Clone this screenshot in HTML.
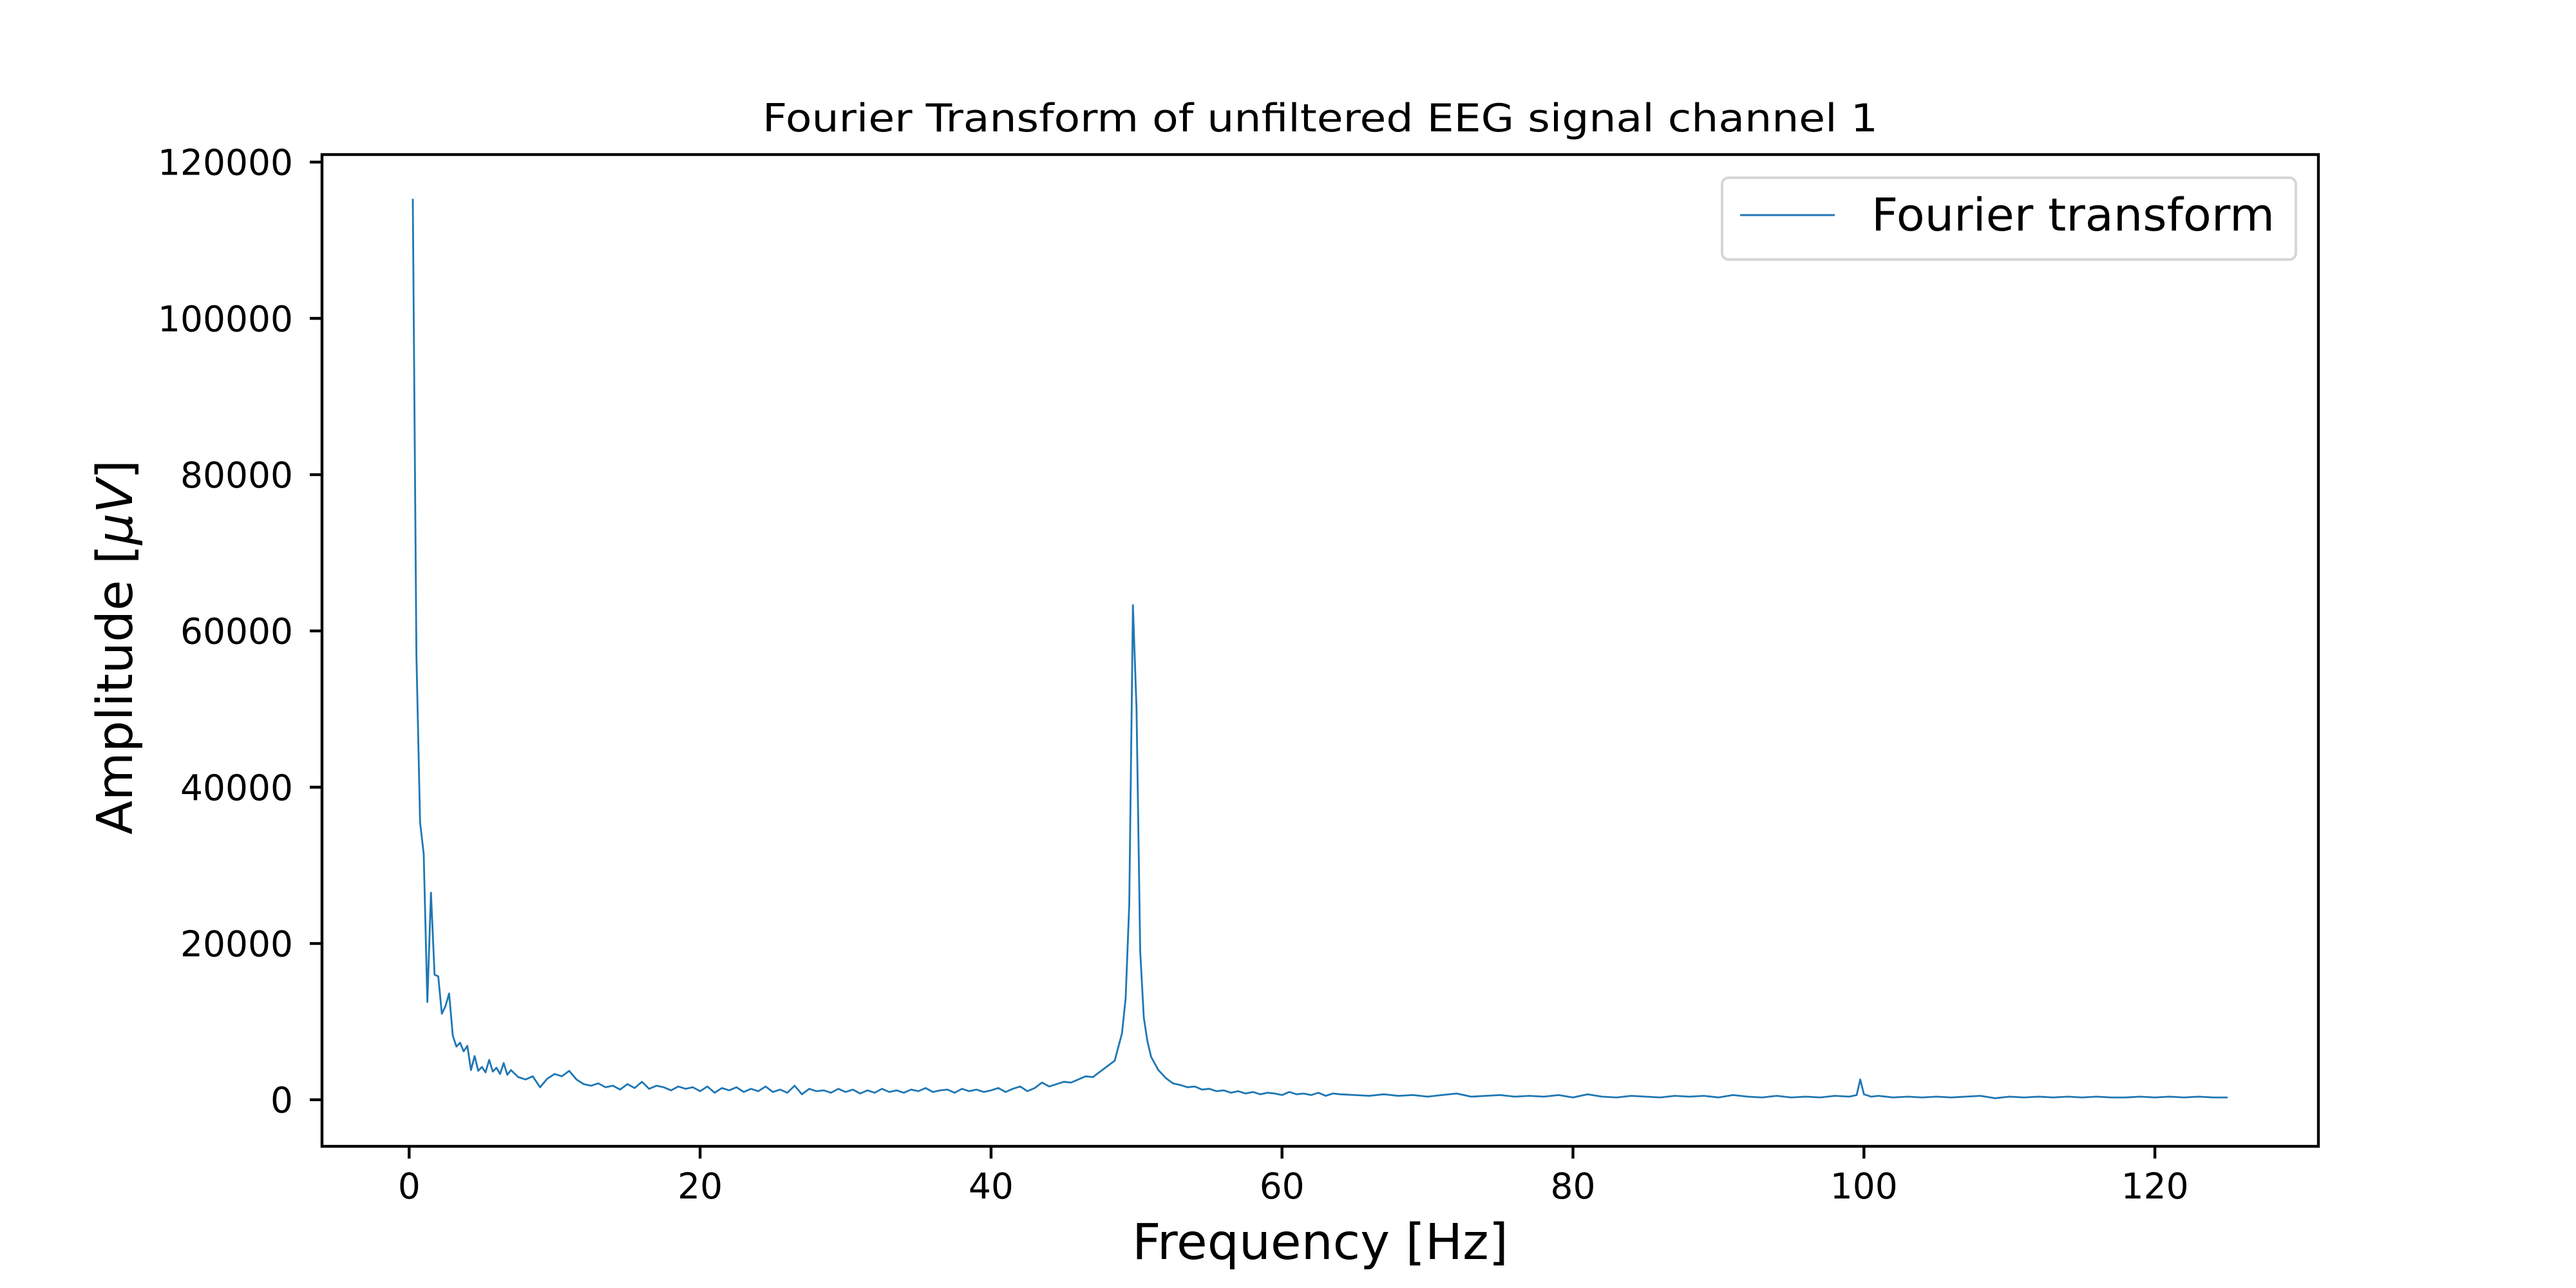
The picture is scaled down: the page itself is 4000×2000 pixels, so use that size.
<!DOCTYPE html>
<html><head><meta charset="utf-8"><style>
html,body{margin:0;padding:0;background:#fff;}
svg{display:block;}
text{font-family:"DejaVu Sans","Liberation Sans",sans-serif;fill:#000;}
</style></head><body>
<svg id="chart" width="4000" height="2000" viewBox="0 0 4000 2000" xmlns="http://www.w3.org/2000/svg">
<rect x="0" y="0" width="4000" height="2000" fill="#fff"/>
<text x="2050" y="204" font-size="60" text-anchor="middle" textLength="1732" lengthAdjust="spacingAndGlyphs">Fourier Transform of unfiltered EEG signal channel 1</text>
<g id="plot"></g>
<g id="xticks"></g>
<g id="yticks"></g>
<rect x="500" y="240" width="3100" height="1540" fill="none" stroke="#000" stroke-width="4.4"/>
<text x="2050" y="1955" font-size="77" text-anchor="middle" textLength="584" lengthAdjust="spacingAndGlyphs">Frequency [Hz]</text>
<text transform="translate(205,1005) rotate(-90)" font-size="77" text-anchor="middle" textLength="582" lengthAdjust="spacingAndGlyphs">Amplitude [<tspan font-style="italic">μV</tspan>]</text>
<g>
<rect x="2674" y="276" width="891" height="127" rx="10" fill="#fff" fill-opacity="0.8" stroke="#d6d6d6" stroke-width="4"/>
<line x1="2702" y1="334" x2="2849" y2="334" stroke="#1f77b4" stroke-width="3"/>
<text x="2906" y="358" font-size="70" textLength="626" lengthAdjust="spacingAndGlyphs">Fourier transform</text>
</g>
</svg>
<script>
const freqs = [0.25,0.5,0.75,1,1.25,1.5,1.75,2,2.25,2.5,2.75,3,3.25,3.5,3.75,4,4.25,4.5,4.75,5,5.25,5.5,5.75,6,6.25,6.5,6.75,7,7.5,8,8.5,9,9.5,10,10.5,11,11.5,12,12.5,13,13.5,14,14.5,15,15.5,16,16.5,17,17.5,18,18.5,19,19.5,20,20.5,21,21.5,22,22.5,23,23.5,24,24.5,25,25.5,26,26.5,27,27.5,28,28.5,29,29.5,30,30.5,31,31.5,32,32.5,33,33.5,34,34.5,35,35.5,36,36.5,37,37.5,38,38.5,39,39.5,40,40.5,41,41.5,42,42.5,43,43.5,44,44.5,45,45.5,46,46.5,47,47.5,48,48.5,49,49.25,49.5,49.75,50,50.25,50.5,50.75,51,51.5,52,52.5,53,53.5,54,54.5,55,55.5,56,56.5,57,57.5,58,58.5,59,59.5,60,60.5,61,61.5,62,62.5,63,63.5,64,65,66,67,68,69,70,71,72,73,74,75,76,77,78,79,80,81,82,83,84,85,86,87,88,89,90,91,92,93,94,95,96,97,98,99,99.5,99.75,100,100.5,101,102,103,104,105,106,107,108,109,110,111,112,113,114,115,116,117,118,119,120,121,122,123,124,125];
const amps = [115300,57000,35500,31500,12500,26500,16000,15800,11000,12000,13600,8200,6800,7300,6200,6900,3800,5600,3700,4200,3500,5100,3600,4100,3300,4700,3200,3800,2900,2600,3000,1600,2700,3300,3000,3700,2600,2000,1800,2100,1600,1800,1300,2000,1500,2300,1400,1800,1600,1200,1700,1400,1600,1100,1700,900,1500,1200,1600,1000,1400,1100,1700,1000,1300,900,1800,700,1400,1100,1200,900,1400,1000,1300,800,1200,900,1400,1000,1200,900,1300,1100,1500,1000,1200,1300,900,1400,1100,1300,1000,1200,1500,1000,1400,1700,1100,1500,2200,1700,2000,2300,2200,2600,3000,2900,3600,4300,5000,8500,13000,25000,63300,50000,19000,10500,7500,5500,3800,2800,2100,1900,1600,1700,1300,1400,1100,1200,900,1100,800,1000,700,900,800,600,1000,700,800,600,900,500,800,700,600,500,700,500,600,400,600,800,400,500,600,400,500,400,600,300,700,400,300,500,400,300,500,400,500,300,600,400,300,500,300,400,300,500,400,600,2600,700,400,500,300,400,300,400,300,400,500,200,400,300,400,300,400,300,400,300,300,400,300,400,300,400,300,300];
const xTickValues = [0,20,40,60,80,100,120];
const yTickValues = [0,20000,40000,60000,80000,100000,120000];

const X0=500,X1=3600,Y0=1780,Y1=240;
const xMin=-5.99,xMax=131.24,yMin=-5958,yMax=120964;
function sx(v){return X0+(v-xMin)/(xMax-xMin)*(X1-X0);}
function sy(v){return Y0-(v-yMin)/(yMax-yMin)*(Y0-Y1);}
const NS="http://www.w3.org/2000/svg";
const plot=document.getElementById('plot');
const pts=freqs.map((f,i)=>sx(f).toFixed(1)+','+sy(amps[i]).toFixed(1)).join(' ');
const line=document.createElementNS(NS,'polyline');
line.setAttribute('points',pts);
line.setAttribute('fill','none');
line.setAttribute('stroke','#1f77b4');
line.setAttribute('stroke-width','2.8');
line.setAttribute('stroke-linejoin','round');


plot.appendChild(line);

const xg=document.getElementById('xticks');
xTickValues.forEach(v=>{
  const x=sx(v);
  const t=document.createElementNS(NS,'line');
  t.setAttribute('x1',x);t.setAttribute('x2',x);t.setAttribute('y1',Y0);t.setAttribute('y2',Y0+19);
  t.setAttribute('stroke','#000');t.setAttribute('stroke-width','4.4');
  
  
  xg.appendChild(t);
  const l=document.createElementNS(NS,'text');
  l.setAttribute('x',x);l.setAttribute('y',1861);
  l.setAttribute('font-size','55');l.setAttribute('text-anchor','middle');
  l.textContent=String(v);
  
  
  xg.appendChild(l);
});
const yg=document.getElementById('yticks');
yTickValues.forEach(v=>{
  const y=sy(v);
  const t=document.createElementNS(NS,'line');
  t.setAttribute('x1',X0-19);t.setAttribute('x2',X0);t.setAttribute('y1',y);t.setAttribute('y2',y);
  t.setAttribute('stroke','#000');t.setAttribute('stroke-width','4.4');
  
  
  yg.appendChild(t);
  const l=document.createElementNS(NS,'text');
  l.setAttribute('x',455);l.setAttribute('y',y+20);
  l.setAttribute('font-size','55');l.setAttribute('text-anchor','end');
  l.textContent=String(v);
  
  
  yg.appendChild(l);
});
</script>
</body></html>
